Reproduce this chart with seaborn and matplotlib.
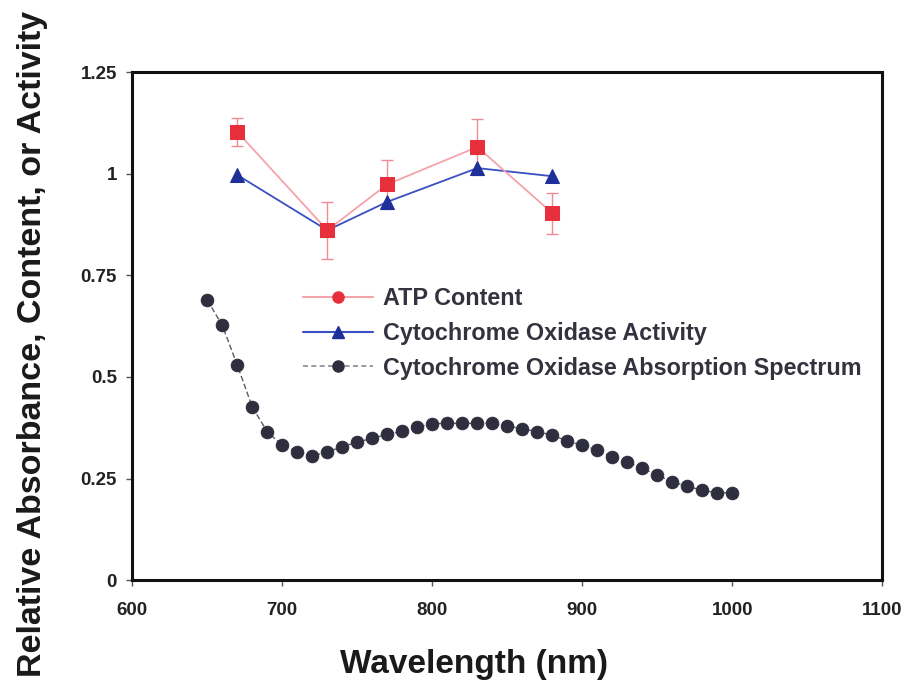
import matplotlib
matplotlib.use("Agg")
import matplotlib.pyplot as plt
from matplotlib.lines import Line2D
import seaborn as sns
import pandas as pd
import numpy as np

# ---- data ----
led_wavelengths = [670, 730, 770, 830, 880]
atp_content = [1.103, 0.861, 0.974, 1.066, 0.903]
atp_error = [0.035, 0.07, 0.06, 0.07, 0.05]
cox_activity = [0.997, 0.861, 0.931, 1.014, 0.994]

spectrum_wavelengths = [650, 660, 670, 680, 690, 700, 710, 720, 730, 740, 750, 760,
                        770, 780, 790, 800, 810, 820, 830, 840, 850, 860, 870, 880,
                        890, 900, 910, 920, 930, 940, 950, 960, 970, 980, 990, 1000]
spectrum_absorbance = [0.689, 0.627, 0.529, 0.426, 0.365, 0.332, 0.316, 0.305, 0.316,
                       0.328, 0.340, 0.349, 0.359, 0.367, 0.377, 0.385, 0.386, 0.386,
                       0.386, 0.386, 0.379, 0.373, 0.365, 0.357, 0.342, 0.332, 0.320,
                       0.303, 0.291, 0.275, 0.258, 0.242, 0.231, 0.221, 0.215, 0.215]

x_ticks = [600, 700, 800, 900, 1000, 1100]
y_ticks = [0, 0.25, 0.5, 0.75, 1, 1.25]
y_tick_labels = ["0", "0.25", "0.5", "0.75", "1", "1.25"]

labels = ["ATP Content", "Cytochrome Oxidase Activity",
          "Cytochrome Oxidase Absorption Spectrum"]

sns.set_theme(style="white")
plt.rcParams['font.family'] = ['Liberation Sans', 'DejaVu Sans']

fig = plt.figure(figsize=(9.06, 6.94), dpi=100)
ax = fig.add_axes([0.146, 0.164, 0.828, 0.732])

df_atp = pd.DataFrame({"wl": led_wavelengths, "val": atp_content})
df_cox = pd.DataFrame({"wl": led_wavelengths, "val": cox_activity})
df_spec = pd.DataFrame({"wl": spectrum_wavelengths, "val": spectrum_absorbance})

SPEC_C = "#2e2e3e"
ATP_C = "#e8303c"
ATP_L = "#f4a3ab"
COX_C = "#1f2f9a"
COX_L = "#3a4fc0"

# spectrum
sns.lineplot(data=df_spec, x="wl", y="val", ax=ax, color="#5a5a66", linewidth=1.0,
             linestyle=(0, (4, 2)), marker="o", markersize=9,
             markerfacecolor=SPEC_C, markeredgecolor=SPEC_C,
             legend=False, zorder=3)

# ATP error bars
ax.errorbar(led_wavelengths, atp_content, yerr=atp_error, fmt="none",
            ecolor="#f08a94", elinewidth=1.0, capsize=4, capthick=1.0, zorder=2)

# activity
sns.lineplot(data=df_cox, x="wl", y="val", ax=ax, color=COX_L, linewidth=1.3,
             marker="^", markersize=10, markerfacecolor=COX_C,
             markeredgecolor=COX_C, legend=False, zorder=4)

# ATP
sns.lineplot(data=df_atp, x="wl", y="val", ax=ax, color=ATP_L, linewidth=1.3,
             marker="s", markersize=10, markerfacecolor=ATP_C,
             markeredgecolor=ATP_C, legend=False, zorder=5)

ax.set_xlim(600, 1100)
ax.set_ylim(0, 1.25)
ax.set_xticks(x_ticks)
ax.set_xticklabels([str(t) for t in x_ticks])
ax.set_yticks(y_ticks)
ax.set_yticklabels(y_tick_labels)

for s in ax.spines.values():
    s.set_visible(True)
    s.set_color("#111111")
    s.set_linewidth(2.2)

ax.tick_params(axis="both", which="both", direction="out", length=4, width=1,
               color="#555555", labelsize=13.5, labelcolor="#222222", pad=7,
               left=True, bottom=True)
ax.tick_params(axis="x", pad=12)
for lab in ax.get_xticklabels() + ax.get_yticklabels():
    lab.set_fontweight("bold")

ax.set_xlabel("Wavelength (nm)", fontsize=24, fontweight="bold", color="#1a1a1a")
ax.xaxis.set_label_coords(0.455, -0.135)
ax.set_ylabel("Relative Absorbance, Content, or Activity", fontsize=24.5,
              fontweight="bold", color="#1a1a1a")
ax.yaxis.set_label_coords(-0.112, 0.465)

handles = [
    Line2D([], [], color=ATP_L, linewidth=1.5, marker="o", markersize=8,
           markerfacecolor=ATP_C, markeredgecolor=ATP_C),
    Line2D([], [], color=COX_L, linewidth=1.5, marker="^", markersize=8,
           markerfacecolor=COX_C, markeredgecolor=COX_C),
    Line2D([], [], color="#8a8a94", linewidth=1.2, linestyle=(0, (3, 2)),
           marker="o", markersize=8, markerfacecolor=SPEC_C, markeredgecolor=SPEC_C),
]
leg = ax.legend(handles, labels, loc="upper left", bbox_to_anchor=(0.215, 0.595),
                frameon=False, handlelength=3.0, labelspacing=0.5,
                handletextpad=0.45, borderaxespad=0,
                prop={"weight": "bold", "size": 16.8})
for t in leg.get_texts():
    t.set_color("#33333f")

fig.savefig("out.png", dpi=100)
